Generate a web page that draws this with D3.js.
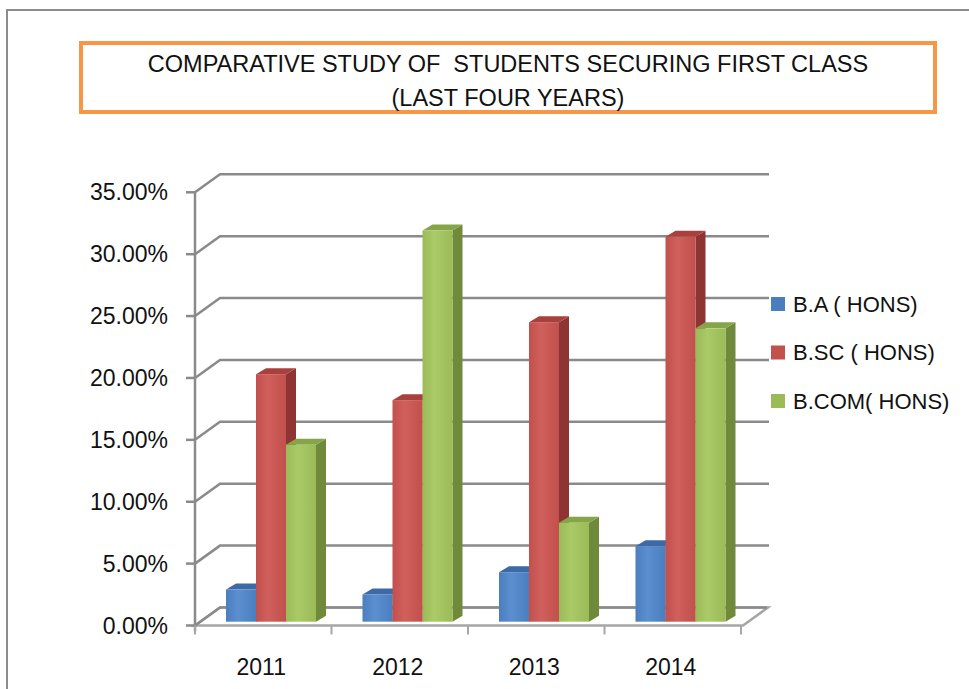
<!DOCTYPE html>
<html>
<head>
<meta charset="utf-8">
<script src="https://cdn.jsdelivr.net/npm/d3@7"></script>
<style>
  body { margin: 0; background: #fff; }
  svg { display: block; }
  text { font-family: "Liberation Sans", Arial, sans-serif; fill: #111; }
  text.title { white-space: pre; }
</style>
</head>
<body>
<div id="chart"></div>
<script>
const width = 969;
const height = 689;

// data
const years = ["2011", "2012", "2013", "2014"];
const seriesNames = ["B.A ( HONS)", "B.SC ( HONS)", "B.COM( HONS)"];
const baHons = [0.026, 0.022, 0.040, 0.061];
const bscHons = [0.200, 0.179, 0.242, 0.311];
const bcomHons = [0.143, 0.316, 0.080, 0.237];
const yTicks = [0, 0.05, 0.10, 0.15, 0.20, 0.25, 0.30, 0.35];
const titleLines = ["COMPARATIVE STUDY OF  STUDENTS SECURING FIRST CLASS", "(LAST FOUR YEARS)"];

const seriesValues = [baHons, bscHons, bcomHons];
const colors = [
  { front: "#4A7EBF", light: "#5C8FD0", side: "#30598E", top: "#3D6AA6" },
  { front: "#C2504D", light: "#D0605C", side: "#8E3533", top: "#A8403D" },
  { front: "#9BBB59", light: "#AACA68", side: "#6E8A3A", top: "#86A548" }
];

const svg = d3.select("#chart").append("svg")
  .attr("width", width)
  .attr("height", height);

// outer frame
svg.append("path")
  .attr("d", `M7,${height}V10H${width}`)
  .attr("fill", "none")
  .attr("stroke", "#8c8c8c")
  .attr("stroke-width", 2);

// title box
svg.append("rect")
  .attr("x", 81).attr("y", 43)
  .attr("width", 854).attr("height", 69)
  .attr("fill", "#fff")
  .attr("stroke", "#F79646")
  .attr("stroke-width", 4);

svg.selectAll("text.title")
  .data(titleLines)
  .enter().append("text")
  .attr("class", "title")
  .attr("x", 508)
  .attr("y", (d, i) => 72 + i * 34)
  .attr("text-anchor", "middle")
  .attr("font-size", 23.5)
  .text(d => d);

// scales (front plane)
const x = d3.scaleBand().domain(years).range([195, 741]);
const y = d3.scaleLinear().domain([0, 0.35]).range([625.5, 192.3]);
const xs = d3.scaleBand().domain(d3.range(seriesNames.length)).range([31, 121]);

// depth offsets
const wallDx = 25, wallDy = -18;
const barDx = 10, barDy = -6;
const barShiftY = -3.8;

// floor
svg.append("path")
  .attr("d", `M${x.range()[0]},${y(0)}L${x.range()[1] + 2},${y(0)}L${x.range()[1] + 2 + wallDx},${y(0) + wallDy}L${x.range()[0] + wallDx},${y(0) + wallDy}Z`)
  .attr("fill", "#fff")
  .attr("stroke", "#a6a6a6")
  .attr("stroke-width", 2.5);

// gridlines on side and back wall
const grid = svg.append("g")
  .attr("fill", "none")
  .attr("stroke", "#8a8a8a")
  .attr("stroke-width", 2.5);

grid.selectAll("path")
  .data(yTicks)
  .enter().append("path")
  .attr("d", d => `M195,${y(d)}L${195 + wallDx},${y(d) + wallDy}H${d === 0 ? 767 : 769}`);

// vertical axis line + ticks
grid.append("path")
  .attr("d", `M195,${y(0.35)}V${y(0) + 6}`);
grid.selectAll("line.ytick")
  .data(yTicks)
  .enter().append("line")
  .attr("class", "ytick")
  .attr("x1", 186).attr("x2", 195)
  .attr("y1", d => y(d)).attr("y2", d => y(d));

// category ticks on floor edge
svg.selectAll("line.xtick")
  .data(years.map(d => x(d)).concat([x.range()[1]]))
  .enter().append("line")
  .attr("class", "xtick")
  .attr("x1", d => d).attr("x2", d => d)
  .attr("y1", y(0)).attr("y2", y(0) + 9)
  .attr("stroke", "#a6a6a6")
  .attr("stroke-width", 2);

// y labels
svg.selectAll("text.ylab")
  .data(yTicks)
  .enter().append("text")
  .attr("class", "ylab")
  .attr("x", 168)
  .attr("y", d => y(d))
  .attr("dy", "0.35em")
  .attr("text-anchor", "end")
  .attr("font-size", 23)
  .text(d => d3.format(".2%")(d));

// x labels
svg.selectAll("text.xlab")
  .data(years)
  .enter().append("text")
  .attr("class", "xlab")
  .attr("x", d => x(d) + x.bandwidth() / 2 - 2)
  .attr("y", 675)
  .attr("text-anchor", "middle")
  .attr("font-size", 23)
  .text(d => d);

// gradients for the bar fronts
const defs = svg.append("defs");
colors.forEach((c, i) => {
  const g = defs.append("linearGradient")
    .attr("id", "grad" + i)
    .attr("x1", "0").attr("x2", "1").attr("y1", "0").attr("y2", "0");
  g.append("stop").attr("offset", "0%").attr("stop-color", c.front);
  g.append("stop").attr("offset", "40%").attr("stop-color", c.light);
  g.append("stop").attr("offset", "100%").attr("stop-color", c.front);
});

// 3D bars
const bars = [];
years.forEach((yr, j) => {
  seriesValues.forEach((vals, i) => {
    bars.push({ year: yr, s: i, v: vals[j] });
  });
});

const barG = svg.append("g")
  .selectAll("g")
  .data(bars)
  .enter().append("g");

barG.each(function(d) {
  const g = d3.select(this);
  const x0 = x(d.year) + xs(d.s);
  const x1 = x0 + xs.bandwidth();
  const yb = y(0) + barShiftY;
  const yt = y(d.v) + barShiftY;
  const c = colors[d.s];
  g.append("path")
    .attr("d", `M${x1},${yt}L${x1 + barDx},${yt + barDy}V${yb + barDy}L${x1},${yb}Z`)
    .attr("fill", c.side);
  g.append("path")
    .attr("d", `M${x0},${yt}L${x0 + barDx},${yt + barDy}H${x1 + barDx}L${x1},${yt}Z`)
    .attr("fill", c.top);
  g.append("rect")
    .attr("x", x0).attr("y", yt)
    .attr("width", x1 - x0).attr("height", yb - yt)
    .attr("fill", `url(#grad${d.s})`);
});

// legend
const legend = svg.append("g")
  .selectAll("g")
  .data(seriesNames)
  .enter().append("g")
  .attr("transform", (d, i) => `translate(771,${297 + i * 48.5})`);

legend.append("rect")
  .attr("width", 14).attr("height", 14)
  .attr("fill", (d, i) => colors[i].front);

legend.append("text")
  .attr("x", 22)
  .attr("y", 7)
  .attr("dy", "0.35em")
  .attr("font-size", 22)
  .text(d => d);
</script>
</body>
</html>
